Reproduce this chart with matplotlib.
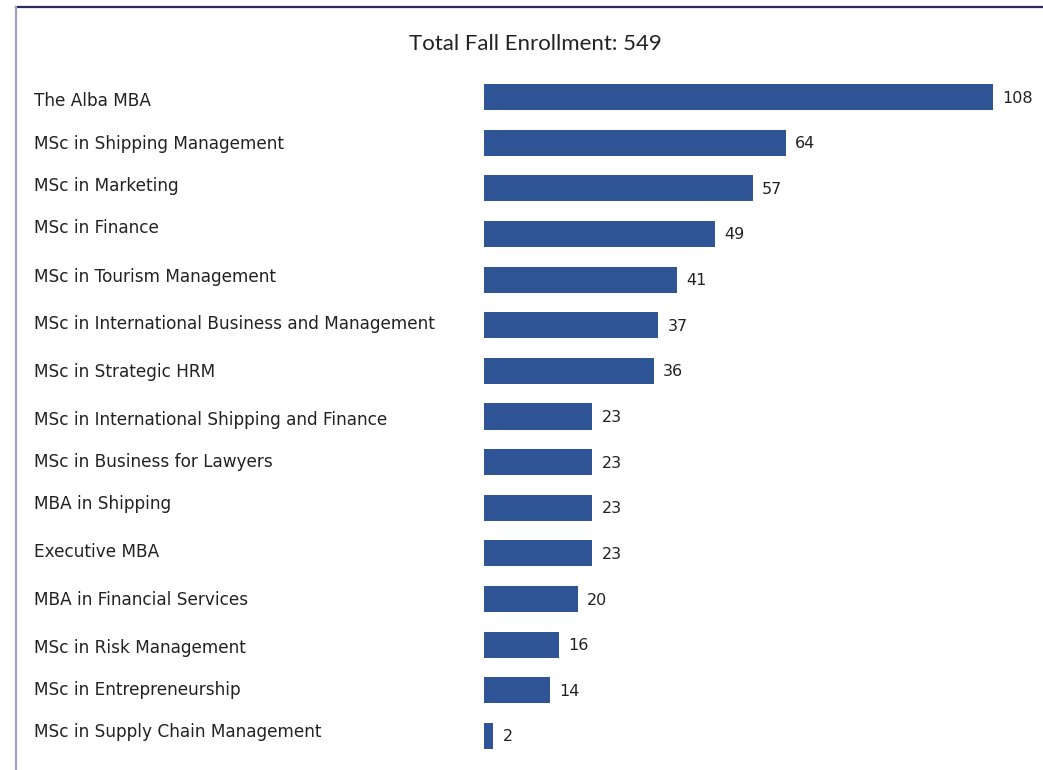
import matplotlib.pyplot as plt
from matplotlib.lines import Line2D

programs = [
    "The Alba MBA",
    "MSc in Shipping Management",
    "MSc in Marketing",
    "MSc in Finance",
    "MSc in Tourism Management",
    "MSc in International Business and Management",
    "MSc in Strategic HRM",
    "MSc in International Shipping and Finance",
    "MSc in Business for Lawyers",
    "MBA in Shipping",
    "Executive MBA",
    "MBA in Financial Services",
    "MSc in Risk Management",
    "MSc in Entrepreneurship",
    "MSc in Supply Chain Management",
]
enrollment = [108, 64, 57, 49, 41, 37, 36, 23, 23, 23, 23, 20, 16, 14, 2]
title = "Total Fall Enrollment: 549"

# the names in the original sit a few pixels off the bar centres
name_nudge_px = [4, 1, -2, -6, -3, -1, 1, 4, 0, -4, -1, 1, 3, 0, -4]

W, H = 1043, 770
fig = plt.figure(figsize=(W / 100, H / 100), dpi=100)

# axes placed in pixel terms: bars start at x=484, ~4.71 px per student
ax_left, ax_right = 484, 484 + 115 * 4.713
ax_top, ax_bottom = 74.2, 758.8
ax = fig.add_axes([ax_left / W, 1 - ax_bottom / H,
                   (ax_right - ax_left) / W, (ax_bottom - ax_top) / H])

ypos = list(range(len(programs)))
ax.barh(ypos, enrollment, height=0.57, color="#2f5597")
ax.set_xlim(0, 115)
ax.set_ylim(len(programs) - 0.5, -0.5)
ax.axis("off")

for y, v in zip(ypos, enrollment):
    ax.annotate(str(v), (v, y), xytext=(9, -1), textcoords="offset pixels",
                va="center", ha="left", fontsize=11.5, color="#222222",
                family="DejaVu Sans")

# program names, left aligned at x=34 px
for y, name, dy in zip(ypos, programs, name_nudge_px):
    ax.annotate(name, (0, y), xycoords=("axes fraction", "data"),
                xytext=(34 - 484, -dy), textcoords="offset pixels",
                va="center", ha="left", fontsize=12.2, color="#222222",
                family="DejaVu Sans")

fig.text(535 / W, 1 - 44 / H, title, ha="center", va="center",
         fontsize=16, family="Lato", color="#222222")

# frame lines (top and left)
fig.add_artist(Line2D([16 / W, 1], [1 - 7 / H, 1 - 7 / H], color="#2b2a5a", lw=1.6))
fig.add_artist(Line2D([16 / W, 16 / W], [0, 1 - 7 / H], color="#a3a1c0", lw=1.6))

fig.savefig("out.png", dpi=100)
